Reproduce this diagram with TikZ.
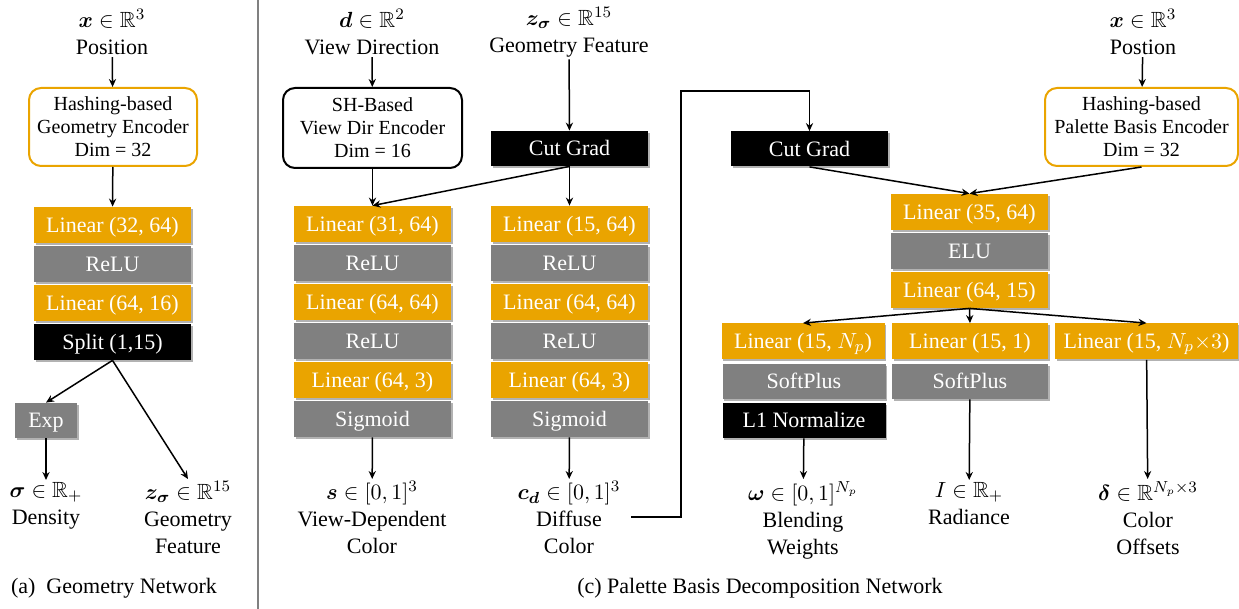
\documentclass[tikz,border=0pt]{standalone}
\usepackage{amsmath,amssymb,bm}
\usepackage{fontspec}
\setmainfont{Liberation Serif}
\usetikzlibrary{arrows.meta,shadows}
\definecolor{Gold}{RGB}{234,164,0}
\definecolor{Grey}{RGB}{128,128,128}
\tikzset{
	lay/.style={minimum width=78.5pt, minimum height=18pt, inner sep=0pt, text=white,
		text height=9pt, text depth=1.8pt, font=\fontsize{11}{13}\selectfont,
		drop shadow={shadow xshift=0.8pt, shadow yshift=-0.8pt, opacity=0.3, fill=black}},
	lin/.style={lay, fill=Gold},
	act/.style={lay, fill=Grey},
	op/.style={lay, fill=black},
	enc/.style={draw, line width=1pt, rounded corners=6pt, align=center, inner sep=0pt,
		font=\fontsize{10}{11.5}\selectfont},
	lbl/.style={align=center, inner sep=1pt, font=\fontsize{11}{13.5}\selectfont},
	arr/.style={-{Stealth[length=4pt,width=3.6pt]}, line width=0.75pt},
}
\begin{document}
\begin{tikzpicture}[x=0.5pt,y=-0.5pt]
\useasboundingbox (0,0) rectangle (1239,609);
%% (a) Geometry network
\node[lbl] (gin) at (112,32) {$\bm{x}\in\mathbb{R}^3$\\Position};
\node[enc, draw=Gold, minimum width=84pt, minimum height=39pt] (genc) at (113,127)
	{Hashing-based\\Geometry Encoder\\Dim = 32};
\foreach \t/\s [count=\i] in {{Linear (32, 64)}/lin, ReLU/act, {Linear (64, 16)}/lin, {Split (1,15)}/op}
	\node[\s] (g\i) at (112.5,{225+39*(\i-1)}) {\t};
\node[act, minimum width=31pt, minimum height=17.5pt] (gexp) at (46,420.5) {Exp};
\node[lbl, anchor=north] (gsig) at (46,480) {$\bm{\sigma}\in\mathbb{R}_+$\\Density};
\node[lbl, anchor=north] (gz) at (188,479) {$\bm{z_\sigma}\in\mathbb{R}^{15}$\\Geometry\\Feature};
%
\draw[arr] (gin) -- (genc);
\draw[arr] (genc) -- (g1);
\draw[arr] (g4.south) -- (gexp.north);
\draw[arr] (g4.south) -- (gz.north);
\draw[arr] (gexp) -- (gsig);
\node[lbl] (capa) at (114,588) {(a)\enspace Geometry Network};
%% separator
\draw[Grey, line width=1pt] (257.5,0) -- (257.5,609);
%% (c) View dependent branch
\node[lbl] (din) at (372,32) {$\bm{d}\in\mathbb{R}^2$\\View Direction};
\node[enc, draw=black, minimum width=89.5pt, minimum height=40pt] (denc) at (372.5,128)
	{SH-Based\\View Dir Encoder\\Dim = 16};
\foreach \t/\s [count=\i] in {{Linear (31, 64)}/lin, ReLU/act, {Linear (64, 64)}/lin, ReLU/act, {Linear (64, 3)}/lin, Sigmoid/act}
	\node[\s] (v\i) at (372.5,{224+39*(\i-1)}) {\t};
\node[lbl, anchor=north] (vout) at (372,479) {$\bm{s}\in[0,1]^3$\\View-Dependent\\Color};
%% Diffuse branch
\node[lbl] (zin) at (569,32) {$\bm{z_\sigma}\in\mathbb{R}^{15}$\\Geometry Feature};
\node[op, minimum height=17.5pt] (cg1) at (569.5,148.5) {Cut Grad};
\foreach \t/\s [count=\i] in {{Linear (15, 64)}/lin, ReLU/act, {Linear (64, 64)}/lin, ReLU/act, {Linear (64, 3)}/lin, Sigmoid/act}
	\node[\s] (c\i) at (569.5,{224+39*(\i-1)}) {\t};
\node[lbl, anchor=north] (cout) at (569,479) {$\bm{c_d}\in[0,1]^3$\\Diffuse\\Color};
%
\draw[arr] (din) -- (denc);
\draw[arr] (denc) -- (v1);
\draw[arr] (zin) -- (cg1);
\draw[arr] (cg1) -- (c1);
\draw[arr] (cg1.south) -- (v1.north);
\draw[arr] (v6) -- (vout);
\draw[arr] (c6) -- (cout);
%% Palette basis branch
\node[op, minimum height=17.5pt] (cg2) at (809.5,149) {Cut Grad};
\coordinate (dfx) at (631,517);
\coordinate (loop) at (681,91);
\draw[arr] (dfx) -| (loop) -| (cg2.north);
\node[lbl] (pin) at (1143,32) {$\bm{x}\in\mathbb{R}^3$\\Postion};
\node[enc, draw=Gold, minimum width=96.5pt, minimum height=39pt] (penc) at (1141.5,127)
	{Hashing-based\\Palette Basis Encoder\\Dim = 32};
\foreach \t/\s [count=\i] in {{Linear (35, 64)}/lin, ELU/act, {Linear (64, 15)}/lin}
	\node[\s] (p\i) at (969.5,{212+39*(\i-1)}) {\t};
\node[lin, minimum width=81.5pt] (wa1) at (803,341.5) {Linear (15, $N_p$)};
\node[act, minimum width=81.5pt, minimum height=17.5pt] (wa2) at (804,381.5) {SoftPlus};
\node[op, minimum width=81.5pt, minimum height=17.5pt] (wa3) at (804,420.5) {L1 Normalize};
\node[lin, minimum width=78pt] (ia1) at (970,341.5) {Linear (15, 1)};
\node[act, minimum width=78pt, minimum height=17.5pt] (ia2) at (970,381.5) {SoftPlus};
\node[lin, minimum width=91.5pt] (oa1) at (1146.5,341.5) {Linear (15, $N_p{\times}3$)};
\node[lbl, anchor=north] (wout) at (803,479) {$\bm{\omega}\in[0,1]^{N_p}$\\Blending\\Weights};
\node[lbl, anchor=north] (iout) at (969,480) {$I\in\mathbb{R}_+$\\Radiance};
\node[lbl, anchor=north] (oout) at (1148,479) {$\bm{\delta}\in\mathbb{R}^{N_p\times 3}$\\Color\\Offsets};
%
\draw[arr] (pin) -- (penc);
\draw[arr] (penc.south) -- (p1.north);
\draw[arr] (cg2.south) -- (p1.north);
\draw[arr] (p3.south) -- (wa1.north);
\draw[arr] (p3.south) -- (ia1.north);
\draw[arr] (p3.south) -- (oa1.north);
\draw[arr] (wa3) -- (wout);
\draw[arr] (ia2) -- (iout);
\draw[arr] (oa1) -- (oout);
\node[lbl] (capc) at (760,588) {(c) Palette Basis Decomposition Network};
\end{tikzpicture}
\end{document}
